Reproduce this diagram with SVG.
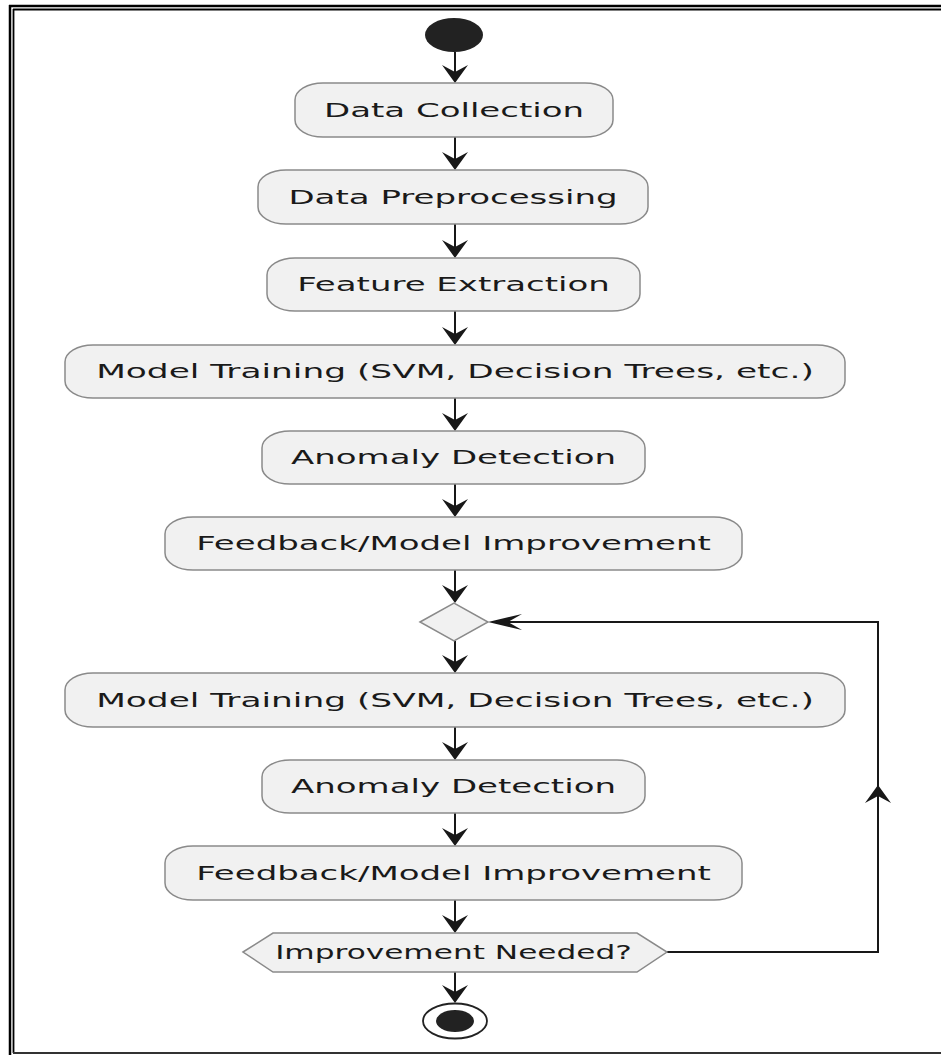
<svg xmlns="http://www.w3.org/2000/svg" width="941" height="1055" viewBox="0 0 941 1055">
<defs>
<style>
.box{fill:#f1f1f1;stroke:#8a8a8a;stroke-width:1.5}
.t{font-family:"DejaVu Sans",sans-serif;font-size:20px;fill:#1a1a1a;text-anchor:middle}
.ln{stroke:#181818;stroke-width:2;fill:none}
.ah{fill:#181818;stroke:none}
.bd{stroke:#000;fill:none}
</style>
<path id="ad" d="M0,0 L-13,-18 L0,-11 L13,-18 Z"/>
<path id="al" d="M0,0 L34,-8 L20,0 L34,8 Z"/>
</defs>
<rect width="941" height="1055" fill="#fff"/>
<g id="border">
<line class="bd" x1="10" y1="5" x2="10" y2="1055" stroke-width="2.5"/>
<line class="bd" x1="9" y1="6" x2="941" y2="6" stroke-width="2.5"/>
<line class="bd" x1="13.5" y1="9" x2="13.5" y2="1053" stroke-width="1.8"/>
<line class="bd" x1="13" y1="9.5" x2="941" y2="9.5" stroke-width="1.8"/>
<line x1="13" y1="1053" x2="941" y2="1053" stroke="#333" stroke-width="1.8"/>
</g>
<g id="connectors">
<line class="ln" x1="455" y1="52" x2="455" y2="78"/>
<line class="ln" x1="455" y1="137" x2="455" y2="165"/>
<line class="ln" x1="455" y1="224" x2="455" y2="253"/>
<line class="ln" x1="455" y1="311" x2="455" y2="340"/>
<line class="ln" x1="455" y1="398" x2="455" y2="426"/>
<line class="ln" x1="455" y1="484" x2="455" y2="512"/>
<line class="ln" x1="455" y1="570" x2="455" y2="598"/>
<line class="ln" x1="455" y1="641" x2="455" y2="668"/>
<line class="ln" x1="455" y1="727" x2="455" y2="755"/>
<line class="ln" x1="455" y1="813" x2="455" y2="841"/>
<line class="ln" x1="455" y1="900" x2="455" y2="928"/>
<line class="ln" x1="455" y1="972" x2="455" y2="998"/>
<polyline class="ln" points="667,952 878,952 878,622 496,622"/>
<g class="ah">
<use href="#ad" x="455" y="83"/>
<use href="#ad" x="455" y="170"/>
<use href="#ad" x="455" y="258"/>
<use href="#ad" x="455" y="345"/>
<use href="#ad" x="455" y="431"/>
<use href="#ad" x="455" y="517"/>
<use href="#ad" x="455" y="603"/>
<use href="#ad" x="455" y="673"/>
<use href="#ad" x="455" y="760"/>
<use href="#ad" x="455" y="846"/>
<use href="#ad" x="455" y="933"/>
<use href="#ad" x="455" y="1003"/>
<use href="#ad" transform="translate(878,785) rotate(180)"/>
<use href="#al" x="488" y="622"/>
</g>
</g>
<g id="start"><ellipse cx="454" cy="35" rx="29" ry="17" fill="#222"/></g>
<g id="n1"><rect class="box" x="295" y="83" width="318" height="54" rx="28" ry="17"/><text class="t" transform="translate(454,117) scale(1.7,1)">Data Collection</text></g>
<g id="n2"><rect class="box" x="258" y="170" width="390" height="54" rx="28" ry="17"/><text class="t" transform="translate(453,204) scale(1.7,1)">Data Preprocessing</text></g>
<g id="n3"><rect class="box" x="267" y="258" width="373" height="53" rx="28" ry="17"/><text class="t" transform="translate(453.5,291) scale(1.7,1)">Feature Extraction</text></g>
<g id="n4"><rect class="box" x="65" y="345" width="780" height="53" rx="28" ry="17"/><text class="t" transform="translate(455,378) scale(1.72,1)">Model Training (SVM, Decision Trees, etc.)</text></g>
<g id="n5"><rect class="box" x="262" y="431" width="383" height="53" rx="28" ry="17"/><text class="t" transform="translate(453.5,464) scale(1.7,1)">Anomaly Detection</text></g>
<g id="n6"><rect class="box" x="165" y="517" width="577" height="53" rx="28" ry="17"/><text class="t" transform="translate(453.5,550) scale(1.7,1)">Feedback/Model Improvement</text></g>
<g id="merge"><polygon class="box" points="420,622 454,603 488,622 454,641"/></g>
<g id="n7"><rect class="box" x="65" y="673" width="780" height="54" rx="28" ry="17"/><text class="t" transform="translate(455,707) scale(1.72,1)">Model Training (SVM, Decision Trees, etc.)</text></g>
<g id="n8"><rect class="box" x="262" y="760" width="383" height="53" rx="28" ry="17"/><text class="t" transform="translate(453.5,793) scale(1.7,1)">Anomaly Detection</text></g>
<g id="n9"><rect class="box" x="165" y="846" width="577" height="54" rx="28" ry="17"/><text class="t" transform="translate(453.5,880) scale(1.7,1)">Feedback/Model Improvement</text></g>
<g id="decision"><polygon class="box" points="243,952 273,933 637,933 667,952 637,972 273,972"/><text class="t" transform="translate(453.5,959) scale(1.56,1)">Improvement Needed?</text></g>
<g id="end"><ellipse cx="455" cy="1021" rx="32" ry="17.5" fill="#fff" stroke="#222" stroke-width="1.8"/><ellipse cx="455" cy="1021" rx="19" ry="11" fill="#222"/></g>
</svg>
